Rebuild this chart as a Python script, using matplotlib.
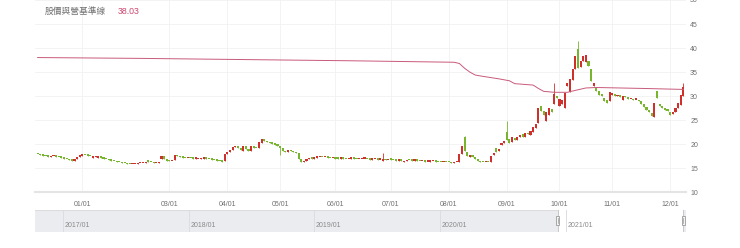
import numpy as np
import pandas as pd
import matplotlib
matplotlib.use("Agg")
import matplotlib.pyplot as plt
import matplotlib.dates as mdates
from matplotlib.patches import Rectangle

plt.rcParams["font.family"] = ["Liberation Sans", "Noto Sans CJK TC", "DejaVu Sans"]

# trading days (Taiwan market closed on these)
holidays = ["2021-01-01", "2021-02-08", "2021-02-09", "2021-02-10", "2021-02-11",
            "2021-02-12", "2021-02-15", "2021-02-16", "2021-03-01", "2021-04-02",
            "2021-04-05", "2021-06-14", "2021-09-20", "2021-09-21", "2021-10-11"]
dates = pd.bdate_range("2020-12-09", "2021-12-08", freq="C", holidays=holidays)

opens = [
    # 2020-12
    18.0, 17.9, 17.7, 17.6, 17.5, 17.3, 17.5, 17.6, 17.4, 17.3, 17.2, 17.0, 16.9, 16.7, 16.6, 16.9, 17.4,
    # 2021-01
    17.6, 17.8, 17.7, 17.6, 17.2, 17.3, 17.2, 17.4, 17.2, 17.0, 16.9, 16.7, 16.6, 16.5, 16.3, 16.2, 16.1, 16.0, 15.9, 15.8,
    # 02
    15.9, 15.9, 16.0, 16.0, 16.1, 16.6, 16.4, 16.2, 16.1, 16.1, 16.9, 17.6, 17.0,
    # 03
    16.7, 16.5, 16.8, 17.8, 17.5, 17.3, 17.2, 17.1, 17.2, 17.1, 17.0, 16.9, 16.9, 17.0, 17.2, 17.0, 16.9, 16.8, 16.7, 16.6, 16.5, 16.6,
    # 04
    18.0, 18.4, 18.9, 19.4, 19.6, 19.2, 18.6, 19.7, 19.1, 18.5, 19.4, 19.3, 19.2, 20.3, 21.0, 20.6, 20.4, 20.2, 20.1, 19.9,
    # 05
    19.6, 19.2, 18.6, 18.4, 18.7, 18.5, 18.3, 18.1, 17.0, 16.3, 16.6, 16.9, 17.1, 17.0, 17.2, 17.3, 17.4, 17.3, 17.4, 17.2, 17.1,
    # 06
    17.1, 17.1, 17.0, 17.1, 17.0, 16.9, 17.0, 17.1, 17.0, 16.9, 16.9, 17.0, 17.0, 16.9, 16.8, 16.9, 16.9, 16.8, 16.5, 16.9, 16.7,
    # 07
    16.9, 16.8, 16.7, 16.6, 16.7, 16.2, 16.5, 16.8, 16.7, 16.6, 16.7, 16.6, 16.5, 16.5, 16.4, 16.4, 16.5, 16.6, 16.4, 16.3, 16.2, 16.3,
    # 08
    16.3, 16.2, 16.1, 16.2, 16.3, 18.0, 21.4, 18.3, 17.4, 17.8, 17.4, 17.0, 16.5, 16.3, 16.2, 16.3, 16.2, 17.8, 19.3, 18.5, 19.9, 20.2,
    # 09
    22.6, 21.0, 20.4, 21.3, 20.8, 21.5, 22.1, 21.6, 22.4, 22.0, 22.6, 23.3, 24.4, 28.0, 27.0, 24.9, 26.0, 27.4, 28.4, 30.0,
    # 10
    28.0, 28.3, 27.6, 32.2, 30.8, 33.4, 35.7, 39.8, 36.0, 37.3, 37.0, 37.3, 35.7, 32.2, 31.7, 31.0, 30.4, 29.7, 29.3, 29.0,
    # 11
    30.2, 30.5, 30.0, 30.3, 29.2, 30.0, 29.8, 29.4, 29.5, 29.3, 29.3, 29.0, 28.4, 27.8, 27.2, 26.4, 25.6, 31.1, 28.4, 28.0, 27.6, 27.3,
    # 12
    26.6, 26.3, 26.6, 27.5, 28.2, 30.1,
]
closes = [
    17.9, 17.7, 17.6, 17.5, 17.4, 17.5, 17.6, 17.4, 17.3, 17.2, 17.0, 16.9, 16.7, 16.6, 16.9, 17.4, 17.6,
    17.8, 17.7, 17.6, 17.5, 17.4, 17.5, 17.4, 17.2, 17.0, 16.9, 16.7, 16.6, 16.5, 16.3, 16.2, 16.1, 16.0, 15.9, 15.8, 15.9,
    15.9, 16.0, 16.0, 16.1, 16.3, 16.4, 16.2, 16.1, 16.1, 16.2, 17.6, 17.0, 16.6,
    16.5, 16.6, 17.8, 17.5, 17.3, 17.2, 17.1, 17.2, 17.1, 17.0, 17.1, 17.0, 17.1, 17.2, 17.0, 16.9, 16.8, 16.7, 16.6, 16.5, 16.4, 18.0,
    18.4, 18.9, 19.4, 19.6, 19.2, 18.8, 19.7, 19.1, 18.5, 19.6, 19.3, 19.2, 20.4, 21.0, 20.6, 20.4, 20.2, 20.1, 19.9, 19.7,
    19.2, 18.6, 18.4, 18.7, 18.5, 18.3, 18.2, 17.0, 16.3, 16.6, 16.9, 17.1, 17.0, 17.2, 17.3, 17.4, 17.3, 17.4, 17.2, 17.1, 17.1,
    17.0, 17.0, 17.1, 17.0, 16.9, 17.0, 17.1, 17.0, 16.9, 16.9, 17.0, 17.0, 16.9, 16.8, 16.9, 16.9, 16.8, 16.8, 16.9, 16.7, 16.8,
    16.8, 16.7, 16.6, 16.7, 16.6, 16.5, 16.8, 16.7, 16.6, 16.7, 16.6, 16.5, 16.5, 16.4, 16.4, 16.5, 16.6, 16.4, 16.3, 16.2, 16.3, 16.2,
    16.2, 16.1, 16.2, 16.3, 17.9, 19.6, 18.6, 17.5, 17.6, 17.3, 17.0, 16.5, 16.3, 16.2, 16.3, 16.2, 17.6, 17.9, 18.4, 19.0, 20.2, 20.6,
    20.9, 20.3, 21.4, 20.8, 21.6, 22.0, 21.6, 22.4, 22.1, 22.8, 23.5, 24.3, 27.5, 27.0, 26.0, 26.8, 27.6, 26.6, 30.4, 29.6,
    29.5, 29.3, 30.7, 32.8, 33.5, 35.7, 38.4, 35.8, 37.3, 38.4, 38.6, 36.3, 33.2, 32.8, 31.0, 30.3, 30.0, 28.9, 28.6, 30.9,
    30.6, 30.0, 30.3, 29.9, 30.0, 29.8, 29.4, 29.5, 29.2, 29.3, 29.0, 28.4, 27.8, 27.2, 26.6, 25.8, 28.6, 29.7, 27.9, 27.6, 27.2, 26.9,
    26.1, 26.7, 27.6, 28.6, 30.2, 31.8,
]
# visible wicks (day index -> price)
spike_high = {131: 18.1, 162: 21.7, 178: 24.9, 196: 32.8, 205: 41.5, 245: 32.8}
spike_low = {92: 17.8}

# baseline line (day index, value)
ref_idx = [0, 40, 80, 120, 158, 160, 162, 164, 166, 168, 175, 179, 181, 188, 190, 192,
           196, 201, 204, 208, 212, 230, 245]
ref_val = [38.03, 37.85, 37.6, 37.35, 37.05, 36.8, 35.8, 35.0, 34.4, 34.2, 33.6, 33.2,
           32.6, 32.3, 31.6, 31.0, 30.8, 30.8, 31.2, 31.7, 31.8, 31.6, 31.4]
ref_label = "股價與營基準線"
ref_last = "38.03"

month_labels = ["01/01", "03/01", "04/01", "05/01", "06/01", "07/01",
                "08/01", "09/01", "10/01", "11/01", "12/01"]
y_ticks = [10, 15, 20, 25, 30, 35, 40, 45, 50]
nav_years = ["2017/01", "2018/01", "2019/01", "2020/01", "2021/01"]

assert len(opens) == len(closes) == len(dates)

W, H = 740, 248
fig = plt.figure(figsize=(W / 100, H / 100), dpi=100)
ax = fig.add_axes([35 / W, (H - 192.3) / H, 651 / W, 192.3 / H])

x = np.arange(len(dates))
o = np.array(opens)
c = np.array(closes)
hi = np.maximum(o, c)
lo = np.minimum(o, c)
for k, v in spike_high.items():
    hi[k] = v
for k, v in spike_low.items():
    lo[k] = v
red, green = "#d0302c", "#78b52e"
cols = np.where(c >= o, red, green)
body_lo = np.minimum(o, c)
body_h = np.maximum(np.abs(c - o), 0.28)
ax.vlines(x, lo, hi, colors=cols, lw=0.6, zorder=2)
ax.bar(x, body_h, bottom=body_lo, width=0.8, color=cols, lw=0, zorder=3)

ax.plot(ref_idx, ref_val, color="#c85a7a", lw=0.7, zorder=4)

ax.set_xlim(-1, len(dates))
ax.set_ylim(10, 50)
month_idx = [int(np.argmax((dates.year == 2021) & (dates.month == int(m[:2]))))
             for m in month_labels]
ax.set_xticks(month_idx)
ax.set_xticklabels(month_labels)
ax.set_yticks(y_ticks)
ax.yaxis.tick_right()
ax.tick_params(axis="both", length=0, labelsize=5, labelcolor="#707070")
ax.tick_params(axis="x", pad=6)
ax.tick_params(axis="y", pad=3)
for lab in ax.get_yticklabels():
    lab.set_horizontalalignment("left")
ax.grid(color="#f1f1f1", lw=0.6, zorder=0)
for s in ["left", "right", "top"]:
    ax.spines[s].set_visible(False)
ax.spines["bottom"].set_color("#e4e4e4")
ax.spines["bottom"].set_linewidth(1.5)

fig.text(45 / W, 1 - 11 / H, ref_label, fontsize=6.3, color="#707070", va="center")
fig.text(118 / W, 1 - 11 / H, ref_last, fontsize=6.3, color="#d2456f", va="center")

# navigator
nav = fig.add_axes([35 / W, (H - 232) / H, 651 / W, 22 / H])
n0 = mdates.date2num(pd.Timestamp("2016-10-12"))
n1 = mdates.date2num(pd.Timestamp("2021-12-16"))
s0 = mdates.date2num(dates[0])
s1 = mdates.date2num(dates[-1])
nav.set_xlim(n0, n1)
nav.set_ylim(0, 1)
nav.axvspan(n0, s0, color="#eaecf0", lw=0, zorder=0)
nav.axvspan(s1, n1, color="#eaecf0", lw=0, zorder=0)
nav.plot([n0, s0], [1, 1], color="#dcdcdc", lw=0.8, zorder=1)
for yl in nav_years:
    d = mdates.date2num(pd.Timestamp(yl.replace("/", "-") + "-01"))
    nav.axvline(d, color="#dadde3", lw=0.7, zorder=1)
    nav.text(d + 5, 0.28, yl, fontsize=5, color="#8a8a8a", va="center")
nav.plot([s0, s0, s1, s1], [1, 0.02, 0.02, 1], color="#c8c8c8", lw=0.7, zorder=2)
for s in [s0, s1]:
    nav.add_patch(Rectangle((s - 4.5, 0.3), 9, 0.42, fc="#f4f4f4", ec="#9a9a9a",
                            lw=0.6, zorder=3))
    nav.plot([s, s], [0.4, 0.62], color="#9a9a9a", lw=0.5, zorder=4)
nav.set_xticks([])
nav.set_yticks([])
for s in nav.spines.values():
    s.set_visible(False)

fig.savefig("out.png", dpi=100)
